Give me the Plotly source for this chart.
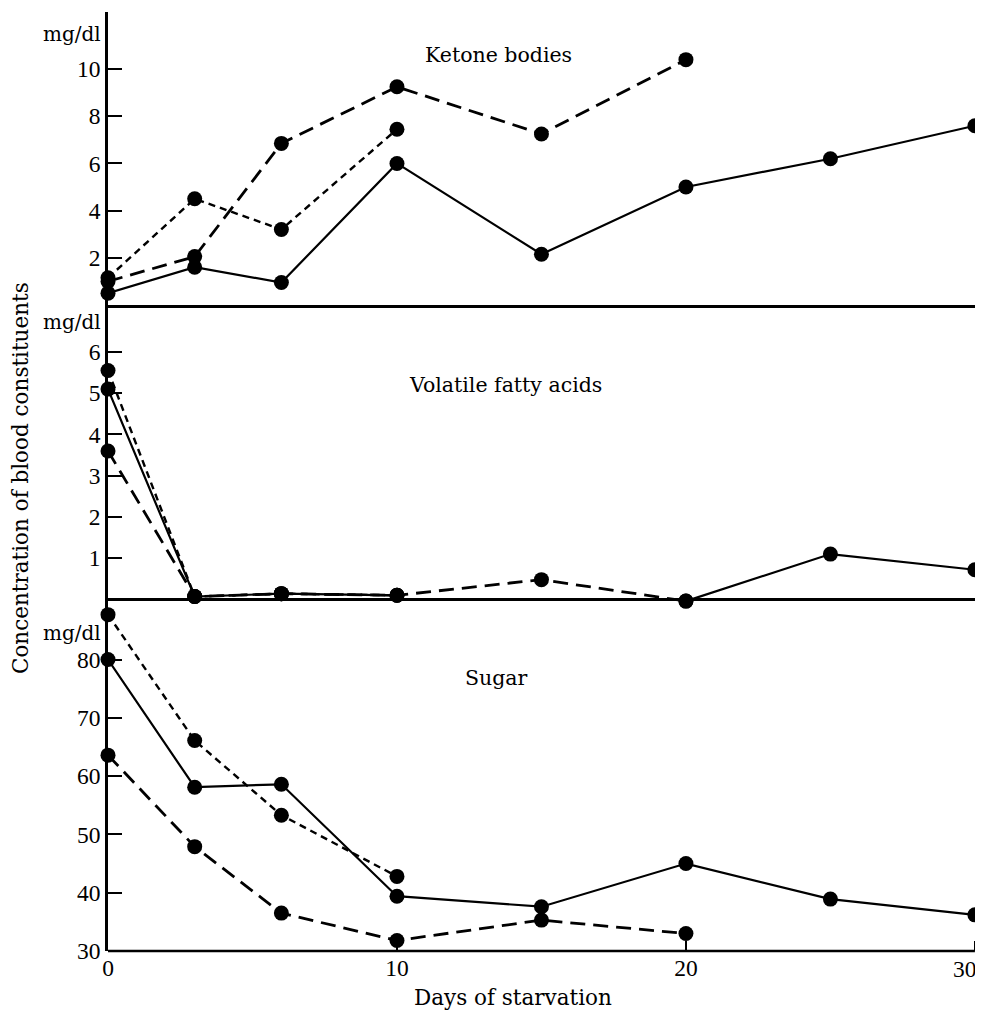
import plotly.graph_objects as go
from plotly.subplots import make_subplots

# ---- data ----
days_full = [0, 3, 6, 10, 15, 20, 25, 30]
days_long = [0, 3, 6, 10, 15, 20]
days_short = [0, 3, 6, 10]

ketone_solid = [0.5, 1.6, 0.95, 6.0, 2.15, 5.0, 6.2, 7.6]
ketone_long = [1.0, 2.05, 6.85, 9.25, 7.25, 10.4]
ketone_short = [1.15, 4.5, 3.2, 7.45]

vfa_solid = [5.1, 0.07, 0.14, 0.1, None, -0.04, 1.1, 0.72]
vfa_long = [3.6, 0.07, 0.14, 0.1, 0.48, -0.04]
vfa_short = [5.55, 0.07, 0.14, 0.1]

sugar_solid = [80.0, 58.1, 58.6, 39.4, 37.6, 45.0, 38.9, 36.2]
sugar_long = [63.6, 47.9, 36.5, 31.8, 35.3, 33.0]
sugar_short = [87.7, 66.1, 53.3, 42.8]

ketone_ticks = [2, 4, 6, 8, 10]
vfa_ticks = [1, 2, 3, 4, 5, 6]
sugar_ticks = [30, 40, 50, 60, 70, 80]
x_ticks = [0, 10, 20, 30]
x_ticktext = ["0", "10", "20", "30"]

panel_titles = ["Ketone bodies", "Volatile fatty acids", "Sugar"]
unit_label = "mg/dl"
x_title = "Days of starvation"
y_title = "Concentration of blood constituents"

NUMFONT = "Liberation Serif"
TXTFONT = "DejaVu Serif"
MS = 15

fig = make_subplots(rows=3, cols=1, shared_xaxes=True, vertical_spacing=0,
                    row_heights=[0.312, 0.318, 0.370])

def add(row, x, y, dash, width):
    fig.add_trace(go.Scatter(
        x=x, y=y, mode="lines+markers",
        line=dict(color="black", width=width, dash=dash),
        marker=dict(color="black", size=MS),
        cliponaxis=False, connectgaps=False, showlegend=False,
    ), row=row, col=1)

LONG = "15px,8px"
SHORT = "7px,5px"

add(1, days_full, ketone_solid, "solid", 2.2)
add(1, days_long, ketone_long, LONG, 2.8)
add(1, days_short, ketone_short, SHORT, 2.4)

add(2, days_full, vfa_solid, "solid", 2.2)
add(2, days_long, vfa_long, LONG, 2.8)
add(2, days_short, vfa_short, SHORT, 2.4)

add(3, days_full, sugar_solid, "solid", 2.2)
add(3, days_long, sugar_long, LONG, 2.8)
add(3, days_short, sugar_short, SHORT, 2.4)

tickfont = dict(family=NUMFONT, size=23.5, color="black")

# the last tick label would spill past the page edge; draw it right-aligned instead
axis_ticktext = x_ticktext[:-1] + [""]

xr = [0, 30.28]
fig.update_xaxes(range=xr, showgrid=False, zeroline=False)
fig.update_layout(
    xaxis=dict(showline=True, linecolor="black", linewidth=3, ticks="",
               showticklabels=False),
    xaxis2=dict(showline=False, ticks="", showticklabels=False),
    xaxis3=dict(showline=False, ticks="inside", ticklen=10, tickwidth=2,
                tickcolor="black", tickvals=x_ticks, ticktext=axis_ticktext,
                tickfont=tickfont, showticklabels=True, automargin=False),
)

ycommon = dict(showgrid=False, showline=True, linecolor="black", linewidth=2.5,
               ticks="inside", ticklen=14, tickwidth=2, tickcolor="black",
               tickfont=tickfont, ticklabelstandoff=0, automargin=False)
fig.update_layout(
    yaxis=dict(range=[0, 12.42], tickvals=ketone_ticks, zeroline=False, **ycommon),
    yaxis2=dict(range=[-0.1, 7.14], tickvals=vfa_ticks, zeroline=True,
                zerolinecolor="black", zerolinewidth=2.5, **ycommon),
    yaxis3=dict(range=[30, 89.6], tickvals=sugar_ticks, zeroline=False, **ycommon),
)

# bottom axis line (ends at day 30)
fig.add_shape(type="line", xref="x3", yref="y3 domain", x0=0, x1=30, y0=0, y1=0,
              line=dict(color="black", width=2.5))

fig.add_annotation(text=x_ticktext[-1], xref="paper", yref="paper", x=1, y=0,
                   xanchor="right", yanchor="top", yshift=-3, xshift=-4,
                   showarrow=False, font=tickfont)

tfont = dict(family=TXTFONT, size=20.5, color="black")
afont = dict(family=TXTFONT, size=21.5, color="black")
# panel titles
fig.add_annotation(text=panel_titles[0], xref="x", yref="y", x=13.5, y=10.6,
                   showarrow=False, font=tfont)
fig.add_annotation(text=panel_titles[1], xref="x2", yref="y2", x=13.74, y=5.19,
                   showarrow=False, font=tfont)
fig.add_annotation(text=panel_titles[2], xref="x3", yref="y3", x=13.43, y=76.9,
                   showarrow=False, font=tfont)

# unit labels
for yref, yv in (("y", 11.5), ("y2", 6.72), ("y3", 84.5)):
    fig.add_annotation(text=unit_label, xref="paper", yref=yref, x=0, y=yv,
                       xanchor="right", xshift=-5, showarrow=False,
                       font=dict(family=TXTFONT, size=20, color="black"))

fig.add_annotation(text=x_title, xref="x3", yref="paper", x=14.0, y=0,
                   yshift=-46, xanchor="center", yanchor="middle",
                   showarrow=False, font=afont)
fig.add_annotation(text=y_title, xref="paper", yref="paper", x=0, y=0.5037,
                   xshift=-88, xanchor="center", yanchor="middle",
                   textangle=-90, showarrow=False, font=afont)

# page body has an 8px margin: size/offset the figure so the plot lands in place
fig.update_layout(
    width=975, height=1007,
    margin=dict(l=100, r=0, t=4, b=64),
    plot_bgcolor="white", paper_bgcolor="white",
    showlegend=False,
)

fig.write_html("out.html")
